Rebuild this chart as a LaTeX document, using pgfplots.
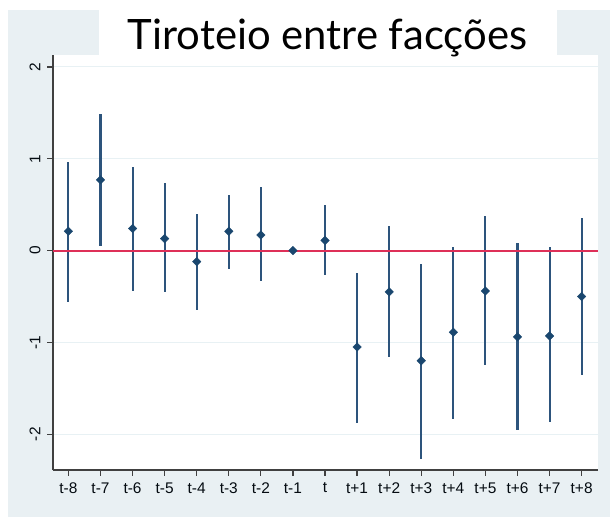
\documentclass[border=0pt]{standalone}
\usepackage{pgfplots}
\pgfplotsset{compat=1.18}
\usepackage{pgfplotstable}
\usepackage{fontspec}
\setmainfont{Liberation Sans}
\newfontfamily\titlefont{Lato}
\definecolor{bg}{RGB}{233,240,243}
\definecolor{navy}{RGB}{26,71,111}
\definecolor{ciline}{RGB}{45,84,124}
\definecolor{redline}{RGB}{222,48,88}
\definecolor{gridc}{RGB}{232,241,244}
\pgfplotstableread{
x y lo hi
-8 0.21 -0.56 0.96
-7 0.77 0.05 1.49
-6 0.24 -0.44 0.91
-5 0.13 -0.45 0.74
-4 -0.12 -0.65 0.40
-3 0.21 -0.20 0.61
-2 0.17 -0.33 0.69
-1 0 0 0
0 0.11 -0.27 0.50
1 -1.05 -1.88 -0.24
2 -0.45 -1.16 0.27
3 -1.20 -2.27 -0.15
4 -0.89 -1.83 0.04
5 -0.44 -1.25 0.38
6 -0.94 -1.95 0.08
7 -0.93 -1.87 0.04
8 -0.50 -1.36 0.36
}\datatable
\begin{document}
\begin{tikzpicture}
\useasboundingbox (0bp,0bp) rectangle (610bp,517bp);
\fill[white] (0bp,0bp) rectangle (610bp,517bp);
\fill[bg] (8bp,0bp) rectangle (610bp,507bp);
\begin{axis}[
  at={(53bp,47bp)}, anchor=south west,
  scale only axis, width=545bp, height=415bp,
  xmin=-8.48, xmax=8.51, ymin=-2.39, ymax=2.13,
  axis background/.style={fill=white},
  axis x line*=bottom, axis y line*=left,
  axis line style={draw=black!75, line width=1.3bp, -},
  tick align=outside, major tick length=6bp,
  tick style={draw=black!75, line width=1.2bp},
  xtick={-8,...,8},
  xticklabels={t-8,t-7,t-6,t-5,t-4,t-3,t-2,t-1,t,t+1,t+2,t+3,t+4,t+5,t+6,t+7,t+8},
  ytick={-2,-1,0,1,2},
  yticklabels={-2,-1,0,1,2},
  yticklabel style={rotate=90, anchor=south, yshift=3bp},
  xticklabel style={yshift=-3bp},
  ymajorgrids, grid style={draw=gridc, line width=1bp},
  tick label style={font=\fontsize{15.5}{15.5}\selectfont, text=black!85!navy},
  /pgf/number format/assume math mode=true,
  clip=false,
]
\addplot[only marks, mark=none, forget plot,
  error bars/.cd, y dir=both, y explicit, error mark=none,
  error bar style={draw=ciline, line width=2.1bp}]
  table[x=x, y=y, y error plus expr=\thisrow{hi}-\thisrow{y}, y error minus expr=\thisrow{y}-\thisrow{lo}] {\datatable};
\addplot[redline, line width=2bp, forget plot] coordinates {(-8.48,0) (8.51,0)};
\addplot[only marks, mark=square*, mark size=3bp, mark options={fill=navy, draw=navy, rotate=45}]
  table[x=x, y=y] {\datatable};
\end{axis}
\fill[white] (99bp,455bp) rectangle (557bp,507bp);
\node[anchor=base, inner sep=0pt] at (327.5bp,467bp) {\titlefont\fontsize{42}{42}\selectfont Tiroteio entre facções};
\end{tikzpicture}
\end{document}
